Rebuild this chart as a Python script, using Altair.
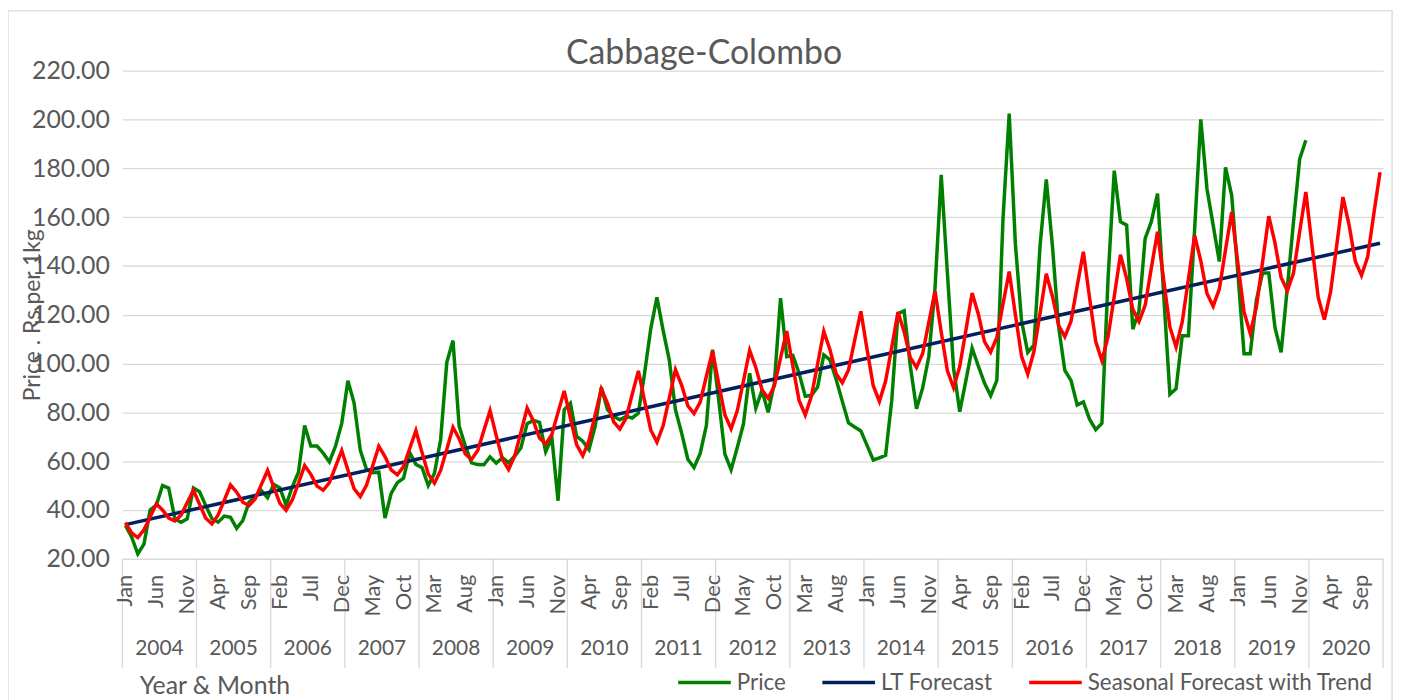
import altair as alt
import pandas as pd

MONTHS = ["Jan", "Feb", "Mar", "Apr", "May", "Jun", "Jul", "Aug", "Sep", "Oct", "Nov", "Dec"]
YEARS = list(range(2004, 2021))
SERIES = ["Price", "LT Forecast", "Seasonal Forecast with Trend"]
COLORS = ["#008000", "#002060", "#FF0000"]
TITLE = "Cabbage-Colombo"

# Monthly price, Jan 2004 - Dec 2019 (Rs per 1kg)
price = [
    33.7, 29.0, 22.0, 26.0, 40.0, 42.0, 50.0, 49.0, 36.4, 35.0, 36.4, 49.0,
    47.5, 41.8, 36.4, 35.0, 37.5, 37.0, 32.5, 35.7, 43.2, 45.5, 48.0, 45.0,
    50.5, 49.0, 42.0, 49.5, 55.5, 74.6, 66.2, 66.2, 63.3, 59.7, 66.2, 75.5,
    93.0, 83.8, 64.5, 56.7, 55.3, 55.5, 36.7, 46.8, 51.2, 53.0, 63.5, 58.7,
    57.3, 50.0, 55.0, 68.8, 100.5, 109.4, 74.3, 66.2, 59.3, 58.6, 58.5, 61.8,
    59.2, 61.4, 59.4, 62.1, 65.5, 75.4, 76.7, 75.9, 63.9, 69.6, 43.8, 81.1,
    83.8, 70.2, 68.2, 64.8, 74.3, 90.3, 81.1, 78.4, 77.0, 78.4, 77.7, 79.7,
    96.0, 114.2, 127.1, 113.6, 101.4, 81.0, 71.5, 60.8, 57.4, 63.2, 74.6, 105.7,
    85.0, 62.9, 56.5, 65.6, 75.3, 96.0, 81.7, 89.0, 80.0, 92.0, 126.8, 102.8,
    103.3, 96.0, 86.6, 87.0, 90.4, 103.5, 101.5, 93.5, 84.5, 75.7, 74.0, 72.4,
    66.5, 60.5, 61.4, 62.4, 85.0, 120.4, 121.6, 99.0, 81.5, 90.0, 103.0, 131.0,
    177.3, 137.0, 98.0, 80.3, 93.1, 106.3, 99.0, 92.0, 86.8, 93.1, 159.4, 202.4,
    149.0, 117.5, 104.6, 107.5, 148.5, 175.4, 148.0, 115.0, 97.2, 93.1, 83.0, 84.3,
    77.2, 72.9, 75.5, 135.0, 179.0, 158.1, 156.7, 114.1, 121.5, 151.3, 158.1, 169.6,
    128.0, 87.4, 89.7, 111.4, 111.4, 155.0, 200.0, 171.6, 156.7, 141.8, 180.4, 168.9,
    137.0, 104.0, 104.0, 126.0, 137.1, 137.1, 114.8, 104.6, 131.0, 158.0, 183.8, 191.5,
]

# Long-term (linear) forecast: first and last month, Jan 2004 and Dec 2020
lt_idx = [0, 203]
lt_values = [34.0, 149.3]

# Seasonal forecast with trend, Jan 2004 - Dec 2020
seasonal = [
    34.8, 30.6, 28.7, 31.9, 37.1, 42.5, 40.0, 36.7, 35.5, 37.9, 43.1, 48.1,
    42.3, 36.6, 34.3, 38.0, 44.0, 50.3, 47.3, 43.2, 41.8, 44.6, 50.5, 56.2,
    49.4, 42.7, 39.9, 44.1, 51.0, 58.2, 54.6, 49.8, 48.1, 51.2, 57.8, 64.4,
    56.4, 48.7, 45.5, 50.1, 58.0, 66.1, 61.9, 56.4, 54.4, 57.8, 65.2, 72.5,
    63.5, 54.7, 51.0, 56.2, 64.9, 73.9, 69.2, 63.0, 60.7, 64.4, 72.6, 80.7,
    70.5, 60.8, 56.6, 62.3, 71.9, 81.8, 76.5, 69.5, 67.0, 71.0, 80.0, 88.8,
    77.6, 66.8, 62.2, 68.4, 78.9, 89.6, 83.8, 76.1, 73.2, 77.6, 87.4, 97.0,
    84.7, 72.8, 67.8, 74.5, 85.8, 97.5, 91.1, 82.7, 79.5, 84.2, 94.8, 105.1,
    91.7, 78.9, 73.3, 80.6, 92.8, 105.4, 98.4, 89.3, 85.8, 90.8, 102.2, 113.3,
    98.8, 84.9, 78.9, 86.7, 99.8, 113.2, 105.7, 95.8, 92.1, 97.4, 109.6, 121.4,
    105.8, 90.9, 84.5, 92.8, 106.7, 121.1, 113.0, 102.4, 98.4, 104.1, 117.0, 129.6,
    112.9, 97.0, 90.1, 98.8, 113.7, 128.9, 120.3, 109.0, 104.7, 110.7, 124.4, 137.7,
    120.0, 103.0, 95.7, 104.9, 120.7, 136.8, 127.5, 115.6, 111.0, 117.3, 131.8, 145.8,
    127.0, 109.0, 101.2, 111.0, 127.6, 144.6, 134.8, 122.2, 117.2, 123.9, 139.2, 154.0,
    134.1, 115.0, 106.8, 117.1, 134.6, 152.5, 142.1, 128.7, 123.5, 130.5, 146.6, 162.1,
    141.1, 121.1, 112.4, 123.2, 141.6, 160.4, 149.4, 135.3, 129.8, 137.1, 154.0, 170.3,
    148.2, 127.1, 118.0, 129.3, 148.5, 168.2, 156.7, 141.9, 136.1, 143.7, 161.4, 178.4,
]

FONT = "Lato"
TXT = "#595959"
GRID = "#D9D9D9"

price_df = pd.DataFrame({"idx": list(range(len(price))), "value": price, "series": SERIES[0]})
lt_df = pd.DataFrame({"idx": lt_idx, "value": lt_values, "series": SERIES[1]})
seas_df = pd.DataFrame({"idx": list(range(len(seasonal))), "value": seasonal, "series": SERIES[2]})

month_pos = list(range(0, len(seasonal), 5))
month_df = pd.DataFrame({"idx": month_pos, "label": [MONTHS[i % 12] for i in month_pos]})
year_df = pd.DataFrame({"idx": [12 * k + 5.5 for k in range(len(YEARS))], "label": [str(y) for y in YEARS]})
sep_df = pd.DataFrame({"idx": [12 * k - 0.5 for k in range(len(YEARS) + 1)]})

W, H = 1268, 491
xs = alt.Scale(domain=[-0.5, 203.5], nice=False, zero=False)
ys = alt.Scale(domain=[20, 220], nice=False, zero=False)
cs = alt.Scale(domain=SERIES, range=COLORS)

x_axis = alt.Axis(
    title="Year & Month", labels=False, ticks=False, grid=False,
    domain=True, domainColor=GRID, domainWidth=1.3,
    titleFont=FONT, titleFontSize=25, titleFontWeight="normal", titleColor=TXT,
    titleX=17, titleY=127, titleAlign="left", titleBaseline="middle", titleAnchor="start",
)
y_axis = alt.Axis(
    title="Price . Rs.per 1kg", values=list(range(20, 221, 20)), format=".2f",
    labelFont=FONT, labelFontSize=25, labelColor=TXT, labelPadding=13,
    domain=False, ticks=False, gridColor=GRID, gridWidth=1.3,
    titleFont=FONT, titleFontSize=23, titleFontWeight="normal", titleColor=TXT,
    titleAngle=270, titleX=-90, titleY=H / 2, titleAlign="center", titleBaseline="middle",
)
legend = alt.Legend(
    orient="none", legendX=557, legendY=587, direction="horizontal", title=None,
    symbolType="stroke", symbolSize=2800, symbolStrokeWidth=3.5,
    labelFont=FONT, labelFontSize=22.5, labelColor=TXT, labelOffset=4,
    columnPadding=29, labelLimit=400,
)

X = alt.X("idx:Q", scale=xs, axis=x_axis)
Y = alt.Y("value:Q", scale=ys, axis=y_axis)


def series_line(df):
    return alt.Chart(df).mark_line(strokeWidth=3.5).encode(
        x=X, y=Y, color=alt.Color("series:N", scale=cs, legend=legend),
    )


price_line = series_line(price_df)
lt_line = series_line(lt_df)
seas_line = series_line(seas_df)

border = alt.Chart(pd.DataFrame({"k": [0]})).mark_rect(
    fill="transparent", stroke=GRID, strokeWidth=1.3
).encode(x=alt.value(-115), x2=alt.value(1277), y=alt.value(-60), y2=alt.value(H + 160))

title_text = alt.Chart(pd.DataFrame({"t": [TITLE]})).mark_text(
    align="center", baseline="middle", font=FONT, fontSize=34, color=TXT
).encode(x=alt.value(585), y=alt.value(-17), text="t:N")

seps = alt.Chart(sep_df).mark_rule(color=GRID, strokeWidth=1.3).encode(
    x=X, y=alt.value(H), y2=alt.value(H + 110)
)
month_text = alt.Chart(month_df).mark_text(
    angle=270, align="right", baseline="middle", font=FONT, fontSize=22, color=TXT
).encode(x=X, y=alt.value(H + 16), text="label:N")
year_text = alt.Chart(year_df).mark_text(
    align="center", baseline="middle", font=FONT, fontSize=21, color=TXT
).encode(x=X, y=alt.value(H + 91), text="label:N")

chart = alt.layer(
    border, title_text, price_line, lt_line, seas_line, seps, month_text, year_text
).properties(
    width=W, height=H,
    padding={"left": 115, "top": 61, "right": 18, "bottom": 140},
    autosize=alt.AutoSizeParams(type="none"),
).configure_view(stroke=None)

chart.save("out.html", embed_options={"renderer": "svg", "actions": False})
